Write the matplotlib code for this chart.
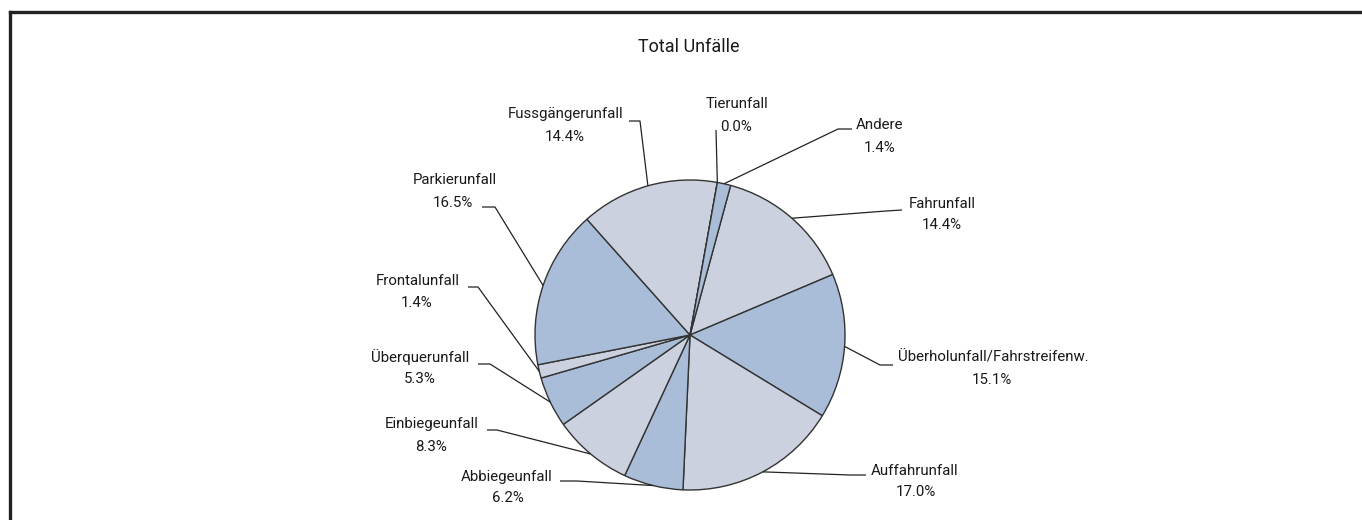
import matplotlib.pyplot as plt
from matplotlib.lines import Line2D
import numpy as np

W, H = 1362, 520

title = "Total Unfälle"
categories = ["Fahrunfall", "Überholunfall/Fahrstreifenw.", "Auffahrunfall",
              "Abbiegeunfall", "Einbiegeunfall", "Überquerunfall", "Frontalunfall",
              "Parkierunfall", "Fussgängerunfall", "Tierunfall", "Andere"]
values = [14.4, 15.1, 17.0, 6.2, 8.3, 5.3, 1.4, 16.5, 14.4, 0.0, 1.4]

light = "#cbd1df"
blue = "#a9bdd8"
colors = [light, blue, light, blue, light, blue, light, blue, light, blue, blue]

# layout (pixel coords, y from top)
cx, cy, R = 690, 335, 155
start_cw = 15.2  # degrees clockwise from 12 o'clock
# label first line (x, y), second line (x, y), leader elbow, leader end
label_pos = {
    "Fahrunfall": ((942, 204), (942, 225), (886, 211), (902, 210)),
    "Überholunfall/Fahrstreifenw.": ((993, 357), (992, 380), (880, 365), (893, 365)),
    "Auffahrunfall": ((915, 471), (916, 492), (850, 475), (866, 475)),
    "Abbiegeunfall": ((507, 477), (508, 498), (577, 481), (560, 481)),
    "Einbiegeunfall": ((432, 424), (431, 447), (497, 430), (487, 430)),
    "Überquerunfall": ((420, 357), (420, 379), (490, 364), (478, 364)),
    "Frontalunfall": ((418, 281), (417, 303), (478, 287), (468, 287)),
    "Parkierunfall": ((455, 180), (453, 203), (495, 207), (482, 207)),
    "Fussgängerunfall": ((566, 114), (565, 137), (640, 121), (629, 121)),
    "Tierunfall": ((737, 104), (736, 127), (716, 130), (716, 130)),
    "Andere": ((880, 125), (880, 148), (838, 129), (852, 129)),
}

plt.rcParams['font.family'] = ['Roboto', 'DejaVu Sans']
txt_color = "#1a1a1a"
fs = 10.8


def px(x, y):
    return x, H - y


fig = plt.figure(figsize=(W / 100, H / 100), dpi=100)
ax = fig.add_axes([0, 0, 1, 1])
ax.set_xlim(0, W)
ax.set_ylim(0, H)
ax.axis('off')

ax.pie(values, colors=colors, center=px(cx, cy), radius=R,
       startangle=90 - start_cw, counterclock=False,
       wedgeprops=dict(edgecolor="#333333", linewidth=1.0))
ax.set_xlim(0, W)
ax.set_ylim(0, H)
ax.set_aspect('equal')

ax.text(*px(689, 47), title, ha='center', va='center', fontsize=13, color=txt_color)

total = sum(values)
acc = start_cw
for cat, v in zip(categories, values):
    span = 360 * v / total
    mid = np.radians(acc + span / 2)
    acc += span
    ex = cx + R * np.sin(mid)
    ey = cy - R * np.cos(mid)
    l1, l2, elbow, end = label_pos[cat]
    xs = [ex, elbow[0], end[0]]
    ys = [H - ey, H - elbow[1], H - end[1]]
    ax.plot(xs, ys, color="#222222", lw=0.9, solid_capstyle='butt')
    ax.text(*px(*l1), cat, ha='center', va='center', fontsize=fs, color=txt_color)
    ax.text(*px(*l2), f"{v:.1f}%", ha='center', va='center', fontsize=fs, color=txt_color)

# frame (top and left edges)
fig.add_artist(Line2D([10 / W, 1], [1 - 12 / H, 1 - 12 / H], color="#222222", lw=2.4,
                      transform=fig.transFigure))
fig.add_artist(Line2D([10 / W, 10 / W], [0, 1 - 12 / H], color="#222222", lw=2.4,
                      transform=fig.transFigure))

fig.savefig("out.png", dpi=100)
